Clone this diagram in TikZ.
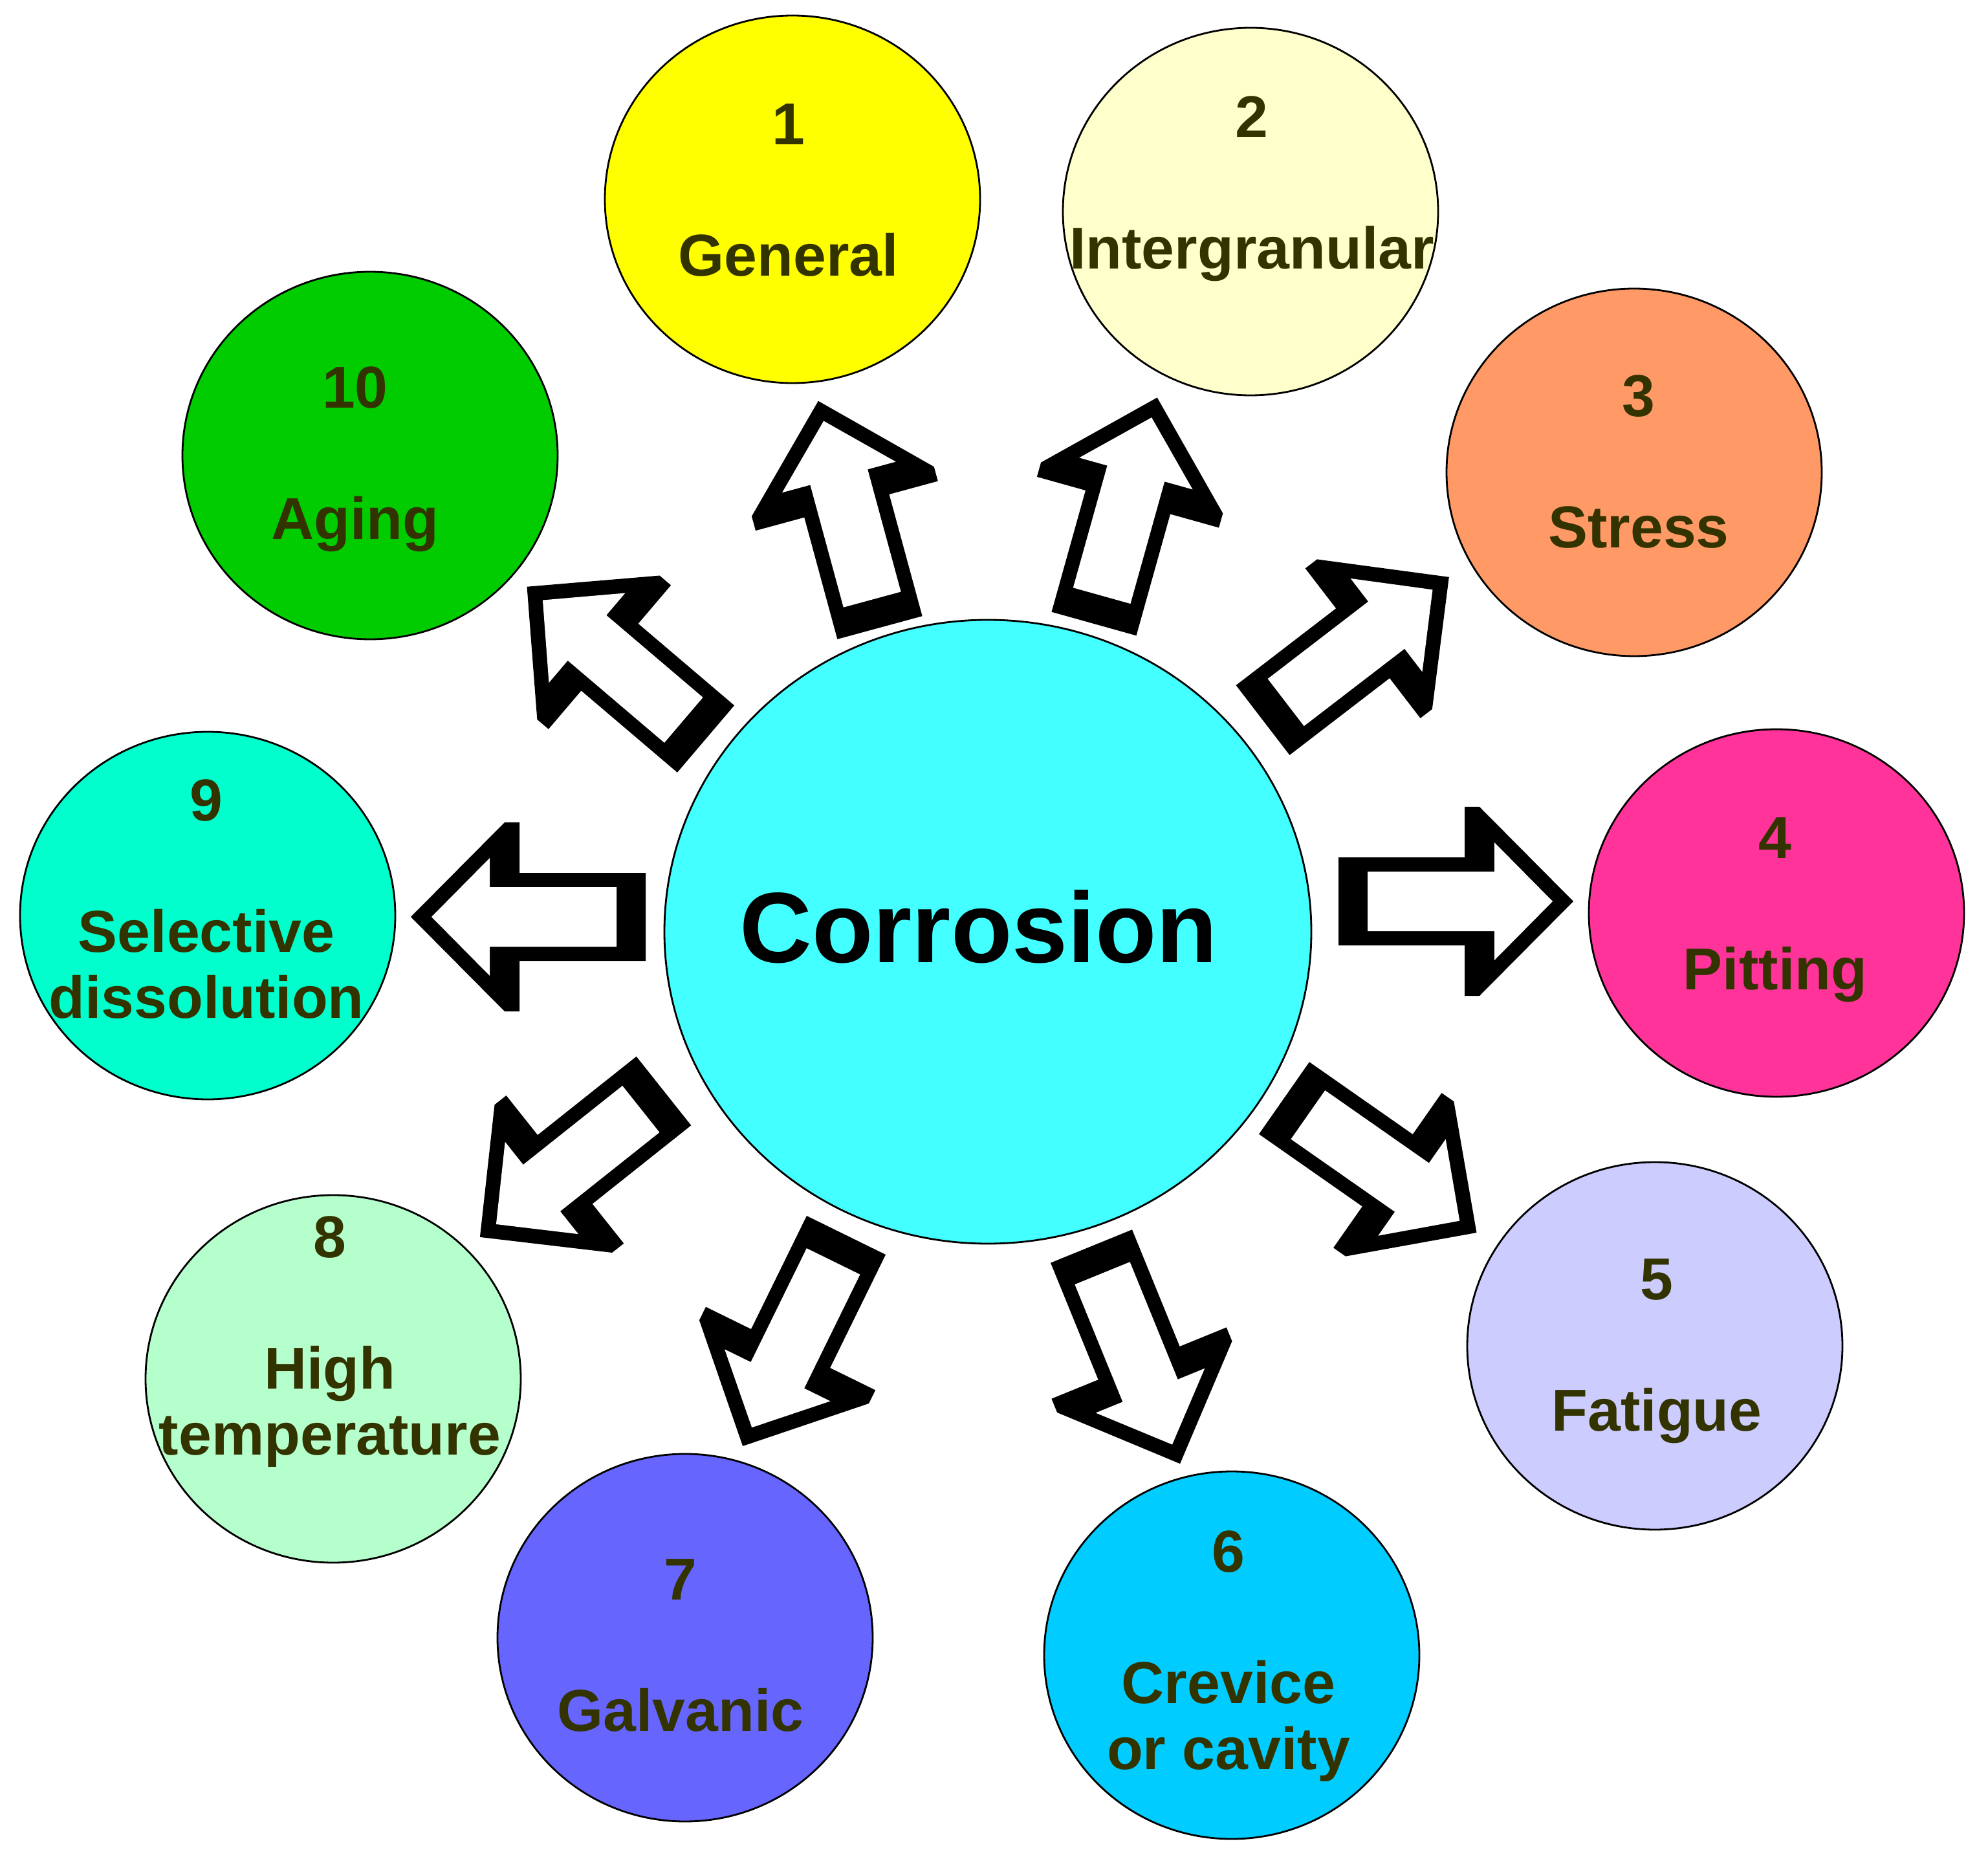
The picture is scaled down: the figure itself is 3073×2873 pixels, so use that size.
\documentclass[tikz,border=0pt]{standalone}
\usepackage{fontspec}
\setmainfont{Liberation Sans}
\usepackage{tikz}
\usetikzlibrary{positioning, calc, shapes.geometric}
\definecolor{corCore}{HTML}{44FFFF}
\definecolor{corGeneral}{HTML}{FFFF00}
\definecolor{corInter}{HTML}{FFFFCC}
\definecolor{corStress}{HTML}{FF9966}
\definecolor{corPitting}{HTML}{FF3399}
\definecolor{corFatigue}{HTML}{CCCCFF}
\definecolor{corCrevice}{HTML}{00CCFF}
\definecolor{corGalvanic}{HTML}{6666FF}
\definecolor{corHighT}{HTML}{B5FFCC}
\definecolor{corSelective}{HTML}{00FFCC}
\definecolor{corAging}{HTML}{00CC00}
\definecolor{corText}{HTML}{333300}
\newcommand{\blockarr}[2]{\path let \p1=($(#2)-(#1)$), \n1={atan2(\y1,\x1)} in (#1) pic[rotate=\n1] {blockarrow};}

\begin{document}
\begin{tikzpicture}[x=0.1mm, y=-0.1mm,
  bubble/.style={ellipse, draw, line width=0.8pt, minimum width=58mm, minimum height=56.8mm, inner sep=0pt},
  tagtext/.style={font=\fontsize{26}{30}\selectfont\bfseries, text=corText, inner sep=0pt, text height=18.6pt, text depth=0pt},
  blockarrow/.pic={\fill[black] (0,-68)--(195,-68)--(195,-146)--(218,-146)--(363,0)--(218,146)--(195,146)--(195,68)--(0,68)--cycle;
    \fill[white] (45,-46)--(241,-46)--(241,-91)--(331,0)--(241,91)--(241,46)--(45,46)--cycle;}]
\useasboundingbox (0,0) rectangle (3073,2873);
% circles
\node[ellipse, draw, line width=0.8pt, fill=corCore, minimum width=100mm, minimum height=96.4mm, inner sep=0pt] (core) at (1527,1440) {};
\node[bubble, fill=corGeneral] (n1) at (1225,308) {};
\node[bubble, fill=corInter] (n2) at (1933,327) {};
\node[bubble, fill=corStress] (n3) at (2526,730) {};
\node[bubble, fill=corPitting] (n4) at (2746,1411) {};
\node[bubble, fill=corFatigue] (n5) at (2558,2080) {};
\node[bubble, fill=corCrevice] (n6) at (1904,2558) {};
\node[bubble, fill=corGalvanic] (n7) at (1059,2531) {};
\node[bubble, fill=corHighT] (n8) at (515,2131) {};
\node[bubble, fill=corSelective] (n9) at (321,1415) {};
\node[bubble, fill=corAging] (n10) at (572,704) {};
% arrows: tail and tip
\coordinate (a1) at (1360,970); \coordinate (b1) at (1266,624);
\coordinate (a2) at (1691,964); \coordinate (b2) at (1788,617);
\coordinate (a3) at (1952,1113); \coordinate (b3) at (2237,894);
\coordinate (a4) at (2069,1393); \coordinate (b4) at (2432,1393);
\coordinate (a5) at (1985,1697); \coordinate (b5) at (2281,1904);
\coordinate (a6) at (1687,1926); \coordinate (b6) at (1824,2262);
\coordinate (a7) at (1308,1909); \coordinate (b7) at (1149,2233);
\coordinate (a8) at (1026,1686); \coordinate (b8) at (743,1911);
\coordinate (a9) at (998,1417); \coordinate (b9) at (633,1417);
\coordinate (a10) at (1091,1142); \coordinate (b10) at (816,908);
\blockarr{a1}{b1} \blockarr{a2}{b2} \blockarr{a3}{b3} \blockarr{a4}{b4} \blockarr{a5}{b5}
\blockarr{a6}{b6} \blockarr{a7}{b7} \blockarr{a8}{b8} \blockarr{a9}{b9} \blockarr{a10}{b10}
% texts
\node[font=\fontsize{44}{50}\selectfont\bfseries, inner sep=0pt, text height=31.5pt, text depth=0pt] (title) at (1513,1432) {Corrosion};
\node[tagtext] (t1) at (1219,191) {1}; \node[tagtext, below=13.6mm of t1] (l1) {General};
\node[tagtext] (t2) at (1935,180) {2}; \node[tagtext, below=13.6mm of t2] (l2) {Intergranular};
\node[tagtext] (t3) at (2533,611) {3}; \node[tagtext, below=13.6mm of t3] (l3) {Stress};
\node[tagtext] (t4) at (2744,1294) {4}; \node[tagtext, below=13.6mm of t4] (l4) {Pitting};
\node[tagtext] (t5) at (2561,1976) {5}; \node[tagtext, below=13.6mm of t5] (l5) {Fatigue};
\node[tagtext] (t6) at (1899,2397) {6}; \node[tagtext, below=13.6mm of t6] (l6) {Crevice};
\node[tagtext, below=3.5mm of l6] (m6) {or cavity};
\node[tagtext] (t7) at (1052,2440) {7}; \node[tagtext, below=13.6mm of t7] (l7) {Galvanic};
\node[tagtext] (t8) at (510,1911) {8}; \node[tagtext, below=13.6mm of t8] (l8) {High};
\node[tagtext, below=3.5mm of l8] (m8) {temperature};
\node[tagtext] (t9) at (319,1236) {9}; \node[tagtext, below=13.6mm of t9] (l9) {Selective};
\node[tagtext, below=3.5mm of l9] (m9) {dissolution};
\node[tagtext] (t10) at (549,598) {10}; \node[tagtext, below=13.6mm of t10] (l10) {Aging};
\end{tikzpicture}
\end{document}
